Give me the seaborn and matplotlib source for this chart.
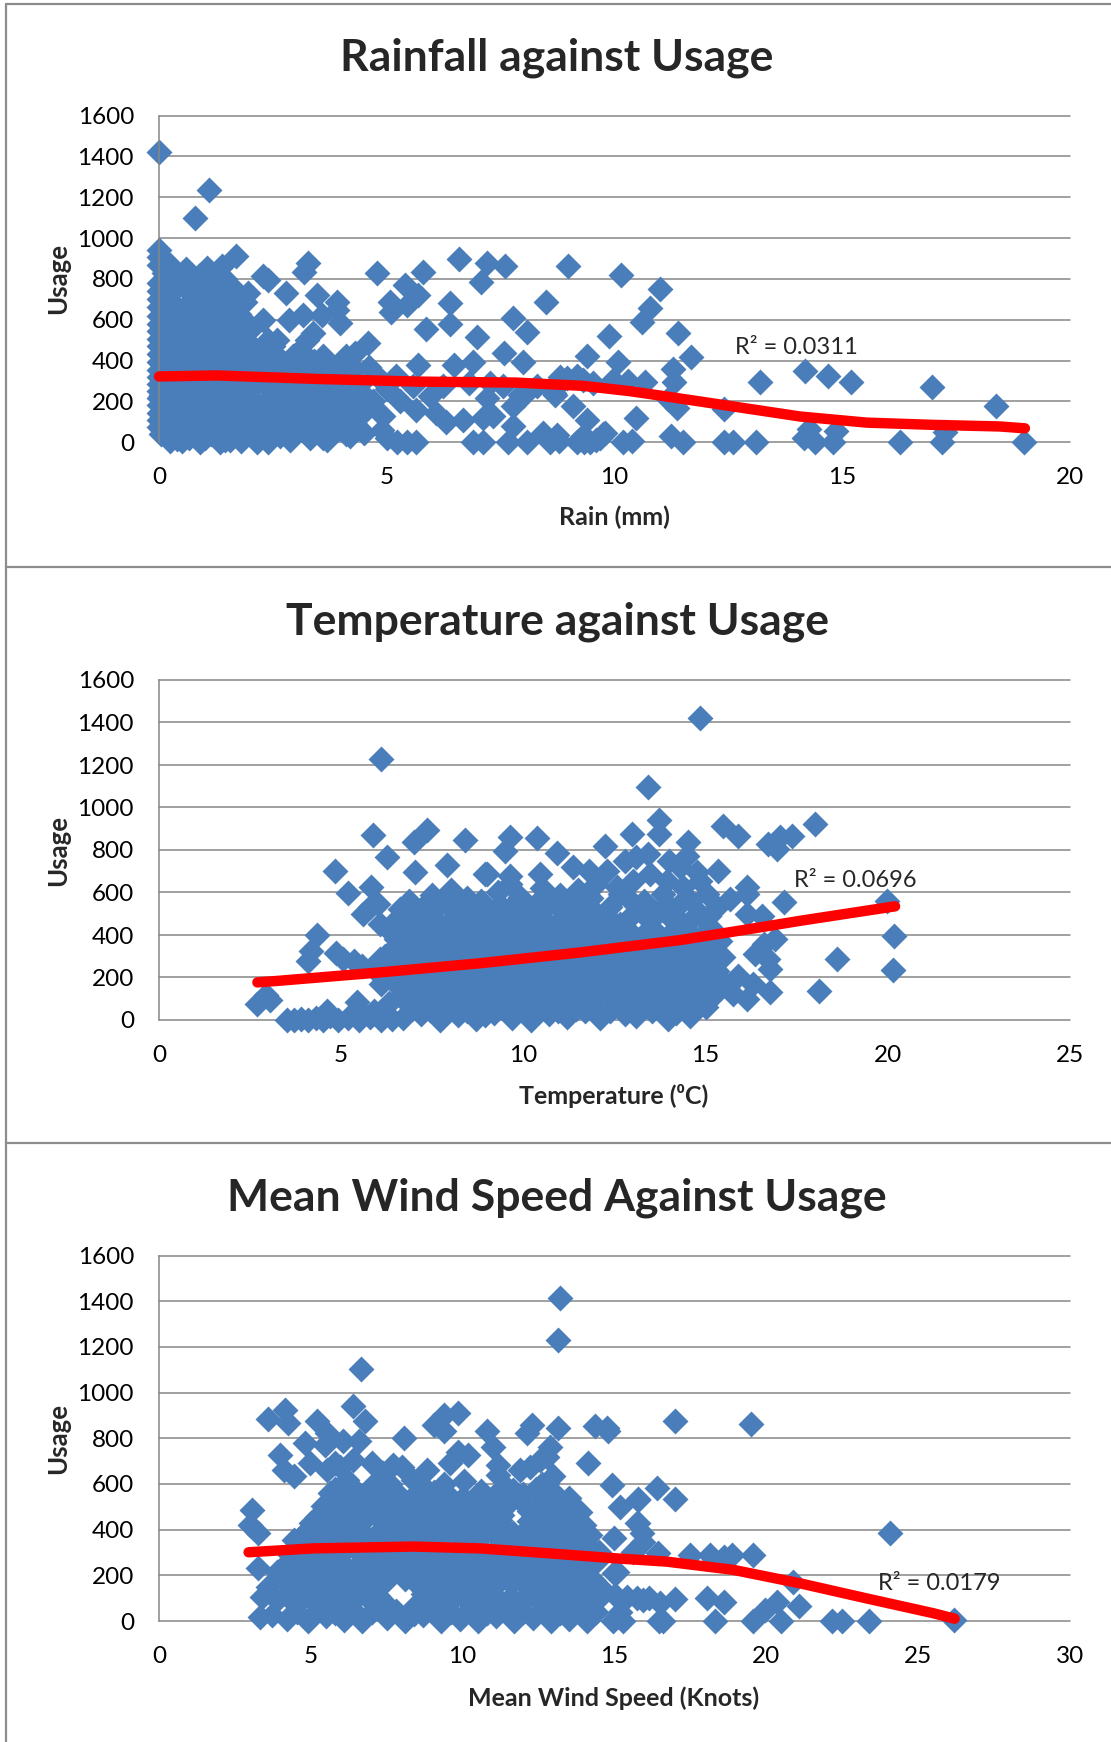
import matplotlib
matplotlib.use("Agg")
import numpy as np
import pandas as pd
import matplotlib.pyplot as plt
import seaborn as sns
from matplotlib.lines import Line2D

# ---------------- data ----------------
# each point: (x value, usage)

rain_points = [
    # days with no rain
    (0, 1420), (0, 940), (0, 905), (0, 870), (0, 780), (0, 740), (0, 700), (0, 660),
    (0, 620), (0, 580), (0, 545), (0, 505), (0, 470), (0, 430), (0, 395), (0, 355),
    (0, 320), (0, 285), (0, 250), (0, 215), (0, 180), (0, 145), (0, 110), (0, 75),
    # 0.05 - 0.45 mm
    (0.15, 885), (0.3, 850), (0.2, 805), (0.4, 760), (0.1, 720), (0.25, 690), (0.4, 650), (0.15, 610),
    (0.3, 570), (0.2, 530), (0.4, 490), (0.1, 450), (0.3, 410), (0.2, 370), (0.4, 330), (0.15, 290),
    (0.3, 250), (0.2, 210), (0.4, 170), (0.1, 130), (0.3, 90), (0.2, 50), (0.4, 15),
    (0.25, 870), (0.1, 830), (0.35, 790), (0.2, 745), (0.05, 700), (0.35, 670), (0.2, 630), (0.45, 590),
    (0.05, 550), (0.35, 510), (0.2, 470), (0.45, 430), (0.05, 390), (0.35, 350), (0.2, 310), (0.45, 270),
    (0.05, 230), (0.35, 190), (0.2, 150), (0.45, 110), (0.05, 40), (0.35, 55), (0.25, 5),
    # 0.5 - 0.95 mm
    (0.8, 1100), (0.6, 850), (0.7, 795), (0.55, 760), (0.8, 720), (0.65, 680), (0.5, 640), (0.85, 600),
    (0.7, 560), (0.55, 520), (0.8, 480), (0.6, 440), (0.75, 400), (0.5, 360), (0.9, 320), (0.65, 280),
    (0.8, 240), (0.55, 200), (0.7, 160), (0.9, 120), (0.6, 80), (0.75, 40), (0.5, 5),
    (0.9, 820), (0.65, 740), (0.95, 700), (0.75, 660), (0.6, 620), (0.95, 560), (0.85, 520), (0.65, 500),
    (0.95, 440), (0.7, 460), (0.9, 380), (0.6, 340), (0.8, 300), (0.95, 260), (0.7, 220), (0.9, 180),
    (0.6, 140), (0.8, 100), (0.95, 60), (0.65, 20), (0.9, 0),
    # 1.0 - 1.45 mm
    (1.1, 1235), (1.05, 855), (1.38, 861), (1.25, 780), (1.0, 740), (1.35, 700), (1.15, 650), (1.3, 600),
    (1.0, 560), (1.2, 520), (1.4, 470), (1.1, 430), (1.3, 380), (1.0, 340), (1.2, 300), (1.4, 260),
    (1.05, 220), (1.25, 180), (1.4, 140), (1.1, 100), (1.3, 60), (1.0, 20), (1.35, 0),
    (1.2, 820), (1.45, 800), (1.1, 690), (1.45, 630), (1.05, 600), (1.3, 540), (1.05, 490), (1.3, 450),
    (1.2, 400), (1.45, 360), (1.1, 300), (1.3, 330), (1.45, 200), (1.15, 150), (1.3, 110), (1.45, 80),
    (1.15, 40), (1.45, 10),
    # 1.5 - 2.2 mm
    (1.69, 913), (1.6, 760), (1.89, 689), (1.5, 660), (1.75, 630), (1.65, 580), (1.85, 540), (1.55, 480),
    (1.75, 440), (1.9, 400), (1.6, 360), (1.8, 320), (1.5, 280), (1.7, 240), (1.9, 200), (1.55, 160),
    (1.75, 120), (1.9, 80), (1.6, 40), (1.8, 5),
    (1.6, 720), (1.95, 730), (1.55, 620), (1.95, 580), (1.7, 520), (2.0, 480), (1.65, 420), (2.1, 380),
    (1.7, 390), (1.95, 340), (1.6, 300), (2.1, 290), (1.85, 260), (1.6, 220), (2.05, 210), (1.8, 180),
    (1.6, 120), (2.05, 130), (1.85, 100), (1.7, 60), (2.0, 40), (1.55, 10), (2.15, 0),
    # 2.0 - 2.45 mm
    (2.29, 812), (2.4, 795), (2.29, 599), (2.05, 560), (2.4, 500), (2.2, 450), (2.0, 410), (2.35, 370),
    (2.1, 330), (2.3, 290), (2.0, 250), (2.4, 210), (2.15, 170), (2.35, 130), (2.05, 90), (2.25, 50),
    (2.4, 0), (2.58, 501),
    # 2.5 - 2.95 mm
    (2.79, 730), (2.86, 599), (2.55, 430), (2.75, 390), (2.9, 350), (2.6, 310), (2.8, 270), (2.55, 230),
    (2.9, 190), (2.7, 150), (2.5, 110), (2.85, 70), (2.65, 30), (2.87, 11),
    (2.5, 470), (2.45, 400), (2.65, 360), (2.45, 330), (2.7, 280), (2.45, 260), (2.7, 220), (2.4, 170),
    (2.6, 190), (2.85, 150), (2.6, 90), (2.45, 60), (2.8, 30), (2.95, 100), (2.95, 240), (2.95, 420),
    # 3.0 - 3.55 mm
    (3.18, 836), (3.28, 877), (3.47, 722), (3.17, 624), (3.57, 624), (3.24, 501), (3.39, 534), (3.1, 450),
    (3.4, 400), (3.2, 360), (3.0, 320), (3.45, 280), (3.15, 240), (3.35, 200), (3.05, 160), (3.3, 120),
    (3.5, 80), (3.31, 20),
    (3.6, 350), (3.3, 330), (3.55, 240), (3.25, 270), (3.5, 170), (3.75, 140), (3.6, 20), (3.95, 100),
    (4.1, 40), (3.95, 300), (4.25, 250), (3.1, 80), (3.0, 200), (3.05, 390), (4.1, 420), (4.6, 370),
    # 3.6 - 5 mm
    (3.9, 689), (3.97, 583), (3.9, 648), (3.9, 354), (4.19, 322), (3.7, 300), (4.0, 250), (3.8, 200),
    (4.3, 436), (4.59, 485), (4.1, 150), (3.9, 60), (4.19, 28), (4.49, 44), (3.68, 11), (4.49, 150),
    (4.4, 280), (3.6, 420), (4.78, 828), (4.92, 126), (3.7, 380), (4.0, 390), (4.3, 360), (4.5, 230),
    (4.2, 200), (3.8, 110), (4.3, 90), (4.8, 320), (5.0, 260), (5.3, 200), (4.7, 200), (4.9, 60), (5.0, 20),
    # 5 - 10 mm
    (5.07, 689), (5.1, 640), (5.4, 771), (5.44, 673), (5.69, 722), (5.79, 836), (5.87, 554), (6.39, 684),
    (6.39, 580), (6.59, 897), (6.99, 514), (7.08, 787), (7.19, 880), (7.59, 864), (7.78, 608), (8.08, 542),
    (8.49, 689), (8.98, 864), (9.88, 518), (10.15, 820),
    (5.69, 379), (6.48, 379), (6.9, 395), (7.58, 439), (8.0, 395), (9.39, 423), (10.08, 395),
    (5.2, 322), (5.58, 273), (5.95, 224), (6.24, 273), (6.8, 289), (7.26, 289), (7.56, 273), (7.92, 232),
    (8.29, 273), (8.65, 256), (8.95, 314), (9.31, 305), (9.53, 289),
    (7.19, 216), (7.78, 175), (8.0, 224), (8.69, 232), (9.09, 175), (9.39, 109), (5.65, 158), (6.09, 142),
    (6.31, 101), (6.68, 109), (7.12, 118), (7.34, 126), (7.78, 77), (8.43, 44), (8.73, 36), (9.75, 41),
    (9.31, 28),
    (5.22, 0), (5.44, 0), (5.65, 0), (6.9, 0), (7.12, 0), (7.67, 0), (8.07, 0), (8.58, 0), (9.17, 0),
    (9.46, 0), (9.68, 20), (10.19, 0),
    # beyond 9 mm
    (11.0, 752), (10.78, 656), (10.6, 589), (11.39, 533), (11.69, 415), (11.28, 357), (11.3, 293),
    (10.68, 297), (10.3, 302), (9.96, 306), (9.18, 324), (8.8, 320), (8.67, 239), (10.47, 121),
    (11.18, 212), (11.37, 167), (12.4, 163), (13.2, 293), (14.18, 348), (14.68, 326), (15.19, 293),
    (16.98, 270), (18.38, 176), (14.27, 67), (14.86, 53), (17.25, 49),
    (8.78, 4), (9.33, 0), (9.6, 13), (9.8, 45), (10.39, 4), (11.25, 31), (11.5, 0), (12.4, 0),
    (12.6, 0), (13.1, 0), (14.16, 22), (14.4, 0), (14.8, 0), (16.27, 0), (17.18, 0), (18.98, 0),
]
rain_trend_x = [0, 1.27, 3.46, 5.65, 7.85, 9.31, 10.34, 11.14, 12.61, 14.07, 15.53, 16.99, 18.46, 19.01]
rain_trend_y = [322, 327, 310, 297, 292, 276, 250, 224, 175, 126, 96, 85, 77, 68]

temp_points = [
    (2.7, 74), (2.95, 119), (3.05, 92),
    (3.5, 0), (3.7, 0), (3.9, 5), (4.1, 0), (4.3, 10), (4.5, 0), (4.7, 20), (4.9, 0),
    (5.2, 10), (5.5, 0), (5.8, 15), (6.1, 0), (6.4, 5), (4.6, 44), (5.43, 83), (5.6, 28), (5.9, 44),
    (4.34, 402), (4.17, 323), (4.09, 278), (4.82, 699), (5.2, 597), (4.86, 314), (5.05, 287),
    (5.34, 278), (5.58, 252), (5.88, 872), (6.27, 766), (5.83, 624), (6.1, 1230),
    (5.6, 500), (5.8, 530), (6.0, 545), (6.07, 452), (6.34, 420), (6.07, 287), (6.34, 311), (6.5, 185),
    (7.0, 837), (7.36, 894), (7.02, 695), (7.9, 730), (8.4, 846), (8.45, 576), (8.95, 686),
    (9.62, 863), (9.49, 793), (9.63, 677), (10.37, 855), (9.0, 687), (9.64, 640), (10.46, 687),
    (10.93, 784), (11.37, 718), (12.24, 820), (12.97, 875), (13.43, 1098), (13.73, 941), (13.73, 875),
    (14.53, 836), (14.49, 773), (14.85, 1420), (15.49, 914), (15.9, 867), (15.35, 703), (16.13, 624),
    (18.0, 922), (17.37, 867), (17.05, 860), (16.72, 828), (16.95, 805), (16.13, 593), (17.15, 554),
    (16.13, 499), (16.54, 491), (16.9, 381), (16.59, 358), (15.49, 295), (16.36, 311), (16.72, 287),
    (16.77, 240), (15.9, 209), (15.76, 122), (16.13, 99), (16.77, 130), (16.31, 169), (15.58, 154),
    (18.6, 287), (18.1, 138), (19.97, 562), (20.16, 397), (20.14, 235),
    (14.58, 20), (13.98, 5), (13.52, 44), (12.79, 28), (12.38, 44),
    # upper part of the main cloud
    (12.56, 624), (12.79, 750), (13.1, 765), (13.43, 781), (14.0, 750), (14.3, 718), (14.76, 695),
    (14.85, 656), (15.03, 593), (15.3, 530), (15.67, 569), (14.39, 624), (13.93, 656), (13.48, 687),
    (13.02, 656), (12.65, 593), (12.38, 530), (13.3, 562), (13.84, 593), (14.3, 546), (14.85, 499),
    (13.93, 499), (13.48, 467), (13.02, 499), (12.65, 452), (14.39, 452), (15.12, 436), (14.67, 389),
    (13.93, 389), (13.3, 405), (12.56, 389), (15.4, 373),
    # body of the cloud
    (6.7, 10), (7.2, 30), (7.7, 0), (8.2, 25), (8.7, 5), (9.2, 35), (9.7, 10), (10.2, 0), (10.7, 30),
    (11.2, 15), (11.7, 40), (12.1, 10), (13.1, 20), (14.2, 35), (15.0, 60),
    (6.95, 50), (7.45, 45), (7.95, 55), (8.45, 40), (8.95, 25), (9.45, 60), (9.95, 45), (10.45, 55),
    (10.95, 40), (11.45, 50), (11.95, 55), (12.6, 65), (13.2, 70), (13.75, 60), (14.35, 70), (14.8, 80),
    (6.3, 80), (6.9, 95), (7.4, 70), (7.9, 100), (8.4, 85), (8.9, 60), (9.4, 110), (9.9, 80), (10.4, 95),
    (10.9, 70), (11.4, 100), (11.9, 85), (12.4, 110), (12.9, 90), (13.4, 120), (13.9, 95), (14.4, 110),
    (14.9, 140),
    (6.6, 115), (7.15, 130), (7.65, 110), (8.15, 125), (8.65, 105), (9.15, 120), (9.65, 115),
    (10.15, 130), (10.65, 110), (11.15, 125), (11.65, 105), (12.15, 125), (12.65, 115), (13.15, 130),
    (13.65, 115), (14.15, 130), (14.65, 110), (15.25, 120),
    (6.1, 170), (6.6, 150), (7.1, 175), (7.6, 150), (8.1, 165), (8.6, 145), (9.1, 175), (9.6, 155),
    (10.1, 170), (10.6, 150), (11.1, 165), (11.6, 145), (12.1, 175), (12.6, 155), (13.1, 170),
    (13.6, 150), (14.1, 175), (14.6, 160), (15.1, 185),
    (6.35, 200), (6.85, 210), (7.35, 190), (7.85, 205), (8.35, 195), (8.85, 210), (9.35, 190),
    (9.85, 205), (10.35, 195), (10.85, 210), (11.35, 190), (11.85, 205), (12.35, 195), (12.85, 210),
    (13.35, 190), (13.85, 205), (14.35, 195), (14.85, 205), (15.4, 195),
    (5.9, 240), (6.4, 225), (6.9, 245), (7.4, 220), (7.9, 240), (8.4, 225), (8.9, 245), (9.4, 220),
    (9.9, 240), (10.4, 225), (10.9, 245), (11.4, 220), (11.9, 240), (12.4, 225), (12.9, 245),
    (13.4, 220), (13.9, 240), (14.4, 230), (14.9, 250), (15.3, 230),
    (6.15, 265), (6.65, 270), (7.15, 255), (7.65, 270), (8.15, 260), (8.65, 275), (9.15, 260),
    (9.65, 270), (10.15, 260), (10.65, 275), (11.15, 260), (11.65, 270), (12.15, 255), (12.65, 270),
    (13.15, 265), (13.65, 275), (14.15, 260), (14.65, 270), (15.15, 275),
    (6.2, 300), (6.7, 310), (7.2, 290), (7.7, 305), (8.2, 295), (8.7, 315), (9.2, 300), (9.7, 290),
    (10.2, 310), (10.7, 295), (11.2, 305), (11.7, 290), (12.2, 310), (12.7, 300), (13.2, 315),
    (13.7, 300), (14.2, 310), (14.7, 295), (15.2, 320),
    (6.45, 340), (6.95, 335), (7.45, 330), (7.95, 340), (8.45, 335), (8.95, 330), (9.45, 340),
    (9.95, 330), (10.45, 340), (10.95, 330), (11.45, 340), (11.95, 335), (12.45, 330), (12.95, 340),
    (13.45, 335), (13.95, 340), (14.45, 330), (14.95, 345),
    (6.5, 380), (7.0, 360), (7.5, 385), (8.0, 365), (8.5, 380), (9.0, 360), (9.5, 375), (10.0, 360),
    (10.5, 385), (11.0, 365), (11.5, 380), (12.0, 360), (12.4, 375), (13.0, 360),
    (6.75, 410), (7.25, 400), (7.75, 410), (8.25, 400), (8.75, 410), (9.25, 400), (9.75, 410),
    (10.25, 400), (10.75, 410), (11.25, 400), (11.75, 410), (12.25, 410), (12.9, 420), (13.6, 420),
    (14.1, 410), (14.95, 400),
    (6.8, 440), (7.3, 455), (7.8, 430), (8.3, 450), (8.8, 435), (9.3, 460), (9.8, 440), (10.3, 455),
    (10.8, 430), (11.3, 450), (11.8, 440), (12.2, 460),
    (6.55, 480), (7.05, 470), (7.55, 480), (8.05, 470), (8.55, 485), (9.05, 475), (9.55, 485),
    (10.05, 470), (10.55, 480), (11.05, 470), (11.55, 485), (12.3, 490), (13.6, 510), (14.1, 470),
    (14.6, 470), (15.1, 490),
    (6.6, 520), (7.1, 505), (7.6, 530), (8.1, 510), (8.6, 525), (9.1, 500), (9.6, 520), (10.1, 505),
    (10.6, 530), (11.1, 510), (11.6, 525), (12.0, 505),
    (6.85, 560), (7.35, 550), (7.85, 560), (8.3, 545), (8.85, 560), (9.35, 540), (9.85, 555),
    (10.35, 545), (10.85, 560), (11.35, 550), (11.85, 575), (12.9, 570), (13.95, 545), (14.6, 560),
    (7.5, 590), (8.0, 610), (9.3, 600), (9.9, 580), (10.5, 620), (11.0, 590), (11.5, 610), (12.0, 640),
    (11.8, 700), (12.3, 700),
]
temp_trend_x = [2.7, 3.32, 6.07, 8.81, 11.56, 14.3, 16.5, 17.6, 20.2]
temp_trend_y = [177, 185, 224, 267, 318, 376, 436, 467, 535]

wind_points = [
    (13.21, 1415), (13.13, 1232), (6.66, 1103), (6.38, 940), (6.79, 874),
    (3.6, 884), (4.15, 925), (4.26, 866), (5.2, 874), (5.52, 823), (4.81, 779), (3.99, 728),
    (4.1, 662), (4.43, 633), (4.98, 691), (5.47, 771), (6.07, 786), (6.57, 786), (5.52, 662), (5.8, 691),
    (8.07, 801), (9.04, 859), (9.37, 903), (9.86, 910), (9.37, 830), (9.86, 742), (10.19, 728),
    (10.79, 830), (11.01, 764), (11.18, 684), (11.18, 640), (12.27, 859), (12.11, 823), (13.15, 847),
    (14.36, 852), (14.8, 833), (14.14, 691), (14.91, 596), (15.19, 501), (15.79, 530), (16.39, 582),
    (12.88, 764), (12.77, 720), (12.55, 706), (12.22, 676), (11.89, 662), (12.99, 633), (12.77, 603),
    (11.67, 574), (11.89, 530), (12.55, 516), (13.32, 487), (13.87, 479), (11.23, 443), (11.67, 384),
    (14.97, 362), (15.73, 428), (15.9, 384), (14.97, 209), (15.4, 107), (15.95, 92), (15.07, 19), (16.45, 0),
    (3.05, 487), (3.0, 421), (3.27, 384), (3.27, 231), (3.6, 150), (3.38, 107), (3.33, 19), (3.71, 26),
    (5.2, 457), (4.81, 384), (4.43, 355), (5.96, 676), (6.18, 618), (6.4, 706), (7.01, 691), (7.39, 647),
    (7.72, 684), (7.99, 676), (8.38, 618), (8.82, 662), (9.04, 567), (9.59, 691), (10.03, 611),
    (10.58, 545), (9.92, 472), (9.59, 545), (8.27, 530), (8.6, 501), (7.72, 530), (7.17, 574),
    (6.84, 530), (6.4, 501), (5.85, 530), (5.63, 560),
    (14.74, 845), (16.99, 874), (19.49, 862), (15.76, 533), (16.99, 533),
    (15.76, 431), (15.95, 348), (15.62, 304), (16.44, 297), (17.49, 289), (18.15, 289),
    (18.59, 282), (18.86, 289), (19.57, 289), (24.07, 387), (20.89, 172), (15.07, 216), (14.52, 150),
    (15.02, 114), (15.73, 99), (16.12, 99), (16.5, 77), (16.99, 95), (18.04, 99), (18.59, 85),
    (20.34, 85), (19.96, 48), (21.09, 66), (15.18, 41), (14.96, 1), (15.29, 0), (16.59, 1), (18.31, 1),
    (19.57, 1), (20.47, 1), (22.15, 1), (22.48, 1), (23.39, 1), (26.18, 4),
    # body of the cloud
    (4.2, 10), (4.9, 0), (5.5, 20), (6.1, 5), (6.7, 0), (7.5, 15), (8.1, 0), (8.7, 25), (9.3, 0),
    (9.9, 10), (10.5, 0), (11.1, 20), (11.7, 0), (12.3, 15), (12.9, 0), (13.5, 10), (14.1, 0),
    (4.55, 40), (5.2, 45), (5.8, 35), (6.4, 50), (7.0, 40), (7.8, 45), (8.4, 30), (9.0, 50), (9.6, 40),
    (10.2, 45), (10.8, 35), (11.4, 50), (12.0, 40), (12.6, 45), (13.2, 35), (13.8, 50), (14.4, 40),
    (3.9, 90), (4.5, 70), (5.1, 85), (5.7, 65), (6.3, 80), (6.9, 95), (7.5, 70), (8.4, 60), (8.9, 85),
    (9.5, 70), (10.1, 90), (10.7, 65), (11.3, 80), (11.9, 70), (12.5, 90), (13.1, 75), (13.7, 60),
    (14.3, 85),
    (4.2, 115), (4.8, 110), (5.4, 120), (6.0, 105), (6.6, 115), (7.2, 110), (8.7, 120), (9.2, 110),
    (9.8, 120), (10.4, 110), (11.0, 115), (11.6, 105), (12.2, 120), (12.8, 110), (13.4, 115),
    (14.0, 105), (14.6, 115),
    (4.2, 160), (4.8, 140), (5.4, 165), (6.0, 150), (6.6, 135), (7.2, 160), (8.6, 150), (9.2, 165),
    (9.8, 140), (10.4, 160), (11.0, 145), (11.6, 165), (12.2, 150), (12.8, 140), (13.4, 160), (14.0, 145),
    (4.5, 185), (5.1, 180), (5.7, 190), (6.3, 175), (6.9, 190), (7.5, 180), (8.1, 185), (8.9, 190),
    (9.5, 180), (10.1, 190), (10.7, 175), (11.3, 190), (11.9, 180), (12.5, 190), (13.1, 175),
    (13.7, 190), (14.3, 180),
    (3.9, 215), (4.5, 230), (5.1, 210), (5.7, 235), (6.3, 220), (6.9, 240), (7.5, 215), (8.1, 230),
    (8.7, 210), (9.3, 235), (9.9, 220), (10.5, 240), (11.1, 215), (11.7, 230), (12.3, 210), (12.9, 235),
    (13.5, 220), (14.1, 240),
    (4.2, 255), (4.8, 265), (5.4, 250), (6.0, 260), (6.6, 250), (7.2, 265), (7.8, 255), (8.4, 265),
    (9.0, 250), (9.6, 265), (10.2, 255), (10.8, 260), (11.4, 250), (12.0, 265), (12.6, 255),
    (13.2, 260), (13.8, 250), (14.4, 260),
    (4.3, 290), (4.9, 300), (5.5, 280), (6.1, 305), (6.7, 285), (7.3, 300), (7.9, 290), (8.5, 305),
    (9.1, 285), (9.7, 300), (10.3, 290), (10.9, 280), (11.5, 300), (12.1, 285), (12.7, 305), (13.3, 290),
    (13.9, 280), (14.5, 300),
    (4.6, 325), (5.2, 330), (5.8, 320), (6.4, 335), (7.0, 325), (7.6, 330), (8.2, 320), (8.8, 335),
    (9.4, 325), (10.0, 330), (10.6, 320), (11.2, 330), (11.8, 325), (12.4, 330), (13.0, 320),
    (13.6, 330), (14.2, 325),
    (4.6, 360), (5.2, 370), (5.8, 355), (6.4, 375), (7.0, 360), (7.6, 370), (8.2, 350), (8.8, 365),
    (9.4, 375), (10.0, 355), (10.6, 370), (11.2, 360), (11.8, 350), (12.4, 370), (13.0, 355),
    (13.6, 365), (14.2, 375),
    (4.9, 400), (5.5, 395), (6.1, 405), (6.7, 390), (7.3, 400), (7.9, 395), (8.5, 405), (9.1, 390),
    (9.7, 400), (10.3, 395), (10.9, 405), (11.5, 390), (12.1, 400), (12.7, 395), (13.3, 405), (13.9, 395),
    (5.0, 430), (5.6, 440), (6.2, 420), (6.8, 445), (7.4, 430), (8.0, 440), (8.6, 420), (9.2, 445),
    (9.8, 420), (10.4, 435), (11.0, 425), (12.2, 440), (12.8, 425), (13.4, 440), (14.0, 420),
    (5.3, 465), (5.9, 470), (6.5, 460), (7.1, 470), (7.7, 460), (8.3, 470), (8.9, 465), (9.5, 470),
    (10.1, 460), (10.7, 470), (11.3, 465), (12.5, 470), (13.1, 460), (13.7, 445),
    (5.4, 505), (6.0, 490), (6.9, 480), (7.5, 500), (8.0, 490), (9.0, 500), (9.6, 480), (10.2, 505),
    (10.8, 490), (11.4, 500), (12.2, 480), (12.9, 505),
    (6.2, 540), (7.3, 540), (7.9, 550), (8.5, 560), (9.2, 540), (10.0, 540), (11.0, 545), (12.0, 555),
    (12.6, 600), (13.5, 540),
    (5.8, 580), (6.5, 570), (7.0, 590), (7.6, 600), (8.8, 580), (9.4, 600), (10.6, 570), (11.4, 590),
    (12.4, 580), (13.0, 560),
]
wind_trend_x = [2.95, 5.09, 8.38, 10.57, 12.77, 14.97, 16.72, 18.91, 21.11, 23.3, 25.5, 26.2]
wind_trend_y = [301, 318, 326, 318, 297, 275, 260, 224, 165, 99, 34, 10]

titles = ["Rainfall against Usage", "Temperature against Usage", "Mean Wind Speed Against Usage"]
xlabels = ["Rain (mm)", "Temperature (\u2070C)", "Mean Wind Speed (Knots)"]
r2_labels = ["R\u00b2 = 0.0311", "R\u00b2 = 0.0696", "R\u00b2 = 0.0179"]
x_max = [20, 25, 30]

# ---------------- styling ----------------
sns.set_style("white")
plt.rcParams["font.family"] = ["Lato", "DejaVu Sans"]

BLUE = "#4A7EBB"
GRID = "#868686"
W, H = 1111, 1742

fig = plt.figure(figsize=(W / 100, H / 100), dpi=100)
fig.patch.set_facecolor("white")


def fx(x):
    return x / W


def fy(y):
    return 1 - y / H


# chart area borders (Excel chart frames)
for y in [4, 567, 1143]:
    fig.add_artist(Line2D([fx(6), 1], [fy(y), fy(y)], color="#8C8C8C", lw=1.6))
fig.add_artist(Line2D([fx(6), fx(6)], [fy(4), 0], color="#8C8C8C", lw=1.6))

# plot boxes in pixels: (top, bottom); left 159, right 1070
boxes = [(115.6, 442.2), (680, 1020), (1255.6, 1621)]
title_base = [70, 634, 1210]
xlabel_base = [525, 1104, 1706]
r2_pos = [(12.64, 432), (17.43, 627), (23.68, 136)]

panels = [
    (rain_points, rain_trend_x, rain_trend_y),
    (temp_points, temp_trend_x, temp_trend_y),
    (wind_points, wind_trend_x, wind_trend_y),
]

for i, (pts, tx, ty) in enumerate(panels):
    top, bottom = boxes[i]
    ax = fig.add_axes([fx(159), fy(bottom), (1070 - 159) / W, (bottom - top) / H])
    df = pd.DataFrame(pts, columns=["x", "usage"])
    sns.scatterplot(data=df, x="x", y="usage", marker="D", s=175, color=BLUE,
                    linewidth=0, ax=ax, clip_on=False, zorder=2, legend=False)
    ax.plot(tx, ty, color="red", lw=7.5, solid_capstyle="round",
            solid_joinstyle="round", zorder=3, clip_on=False)

    ax.set_xlim(0, x_max[i])
    ax.set_ylim(0, 1600)
    ax.set_xticks(range(0, x_max[i] + 1, 5))
    ax.set_yticks(range(0, 1601, 200))
    ax.grid(axis="y", color=GRID, lw=1.1)
    ax.grid(axis="x", visible=False)
    ax.set_axisbelow(True)
    for gl in ax.get_ygridlines():
        gl.set_clip_on(False)
    for s in ["top", "right", "bottom"]:
        ax.spines[s].set_visible(False)
    ax.spines["left"].set_color(GRID)
    ax.spines["left"].set_linewidth(1.1)
    ax.tick_params(axis="x", length=0, labelsize=17.5, pad=18, colors="black")
    ax.tick_params(axis="y", length=0, labelsize=17.5, pad=18, colors="black")
    ax.set_xlabel("")
    ax.set_ylabel("")
    ax.text(r2_pos[i][0], r2_pos[i][1], r2_labels[i], fontsize=17, va="baseline", ha="left")

    # titles and axis titles
    fig.text(fx(557), fy(title_base[i]), titles[i], fontsize=32, fontweight="bold",
             ha="center", va="baseline")
    fig.text(fx(614), fy(xlabel_base[i]), xlabels[i], fontsize=18, fontweight="bold",
             ha="center", va="baseline")
    fig.text(fx(58), fy((top + bottom) / 2), "Usage", fontsize=18.5, fontweight="bold",
             rotation=90, ha="center", va="center")

fig.savefig("out.png", dpi=100)
